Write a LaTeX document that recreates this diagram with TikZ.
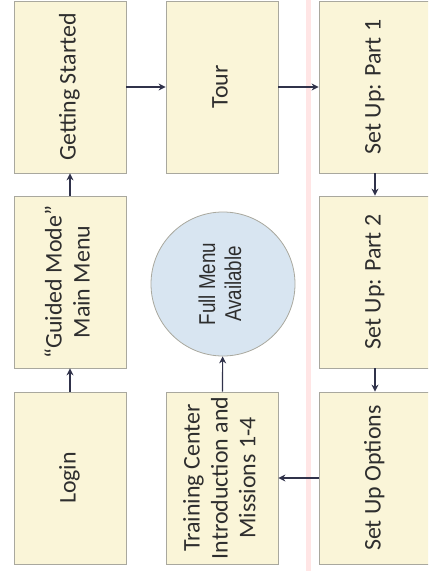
\documentclass[tikz,border=0pt]{standalone}
\usepackage{fontspec}
\usepackage{graphicx}
\usetikzlibrary{arrows.meta}
\newfontfamily\boxfont{Carlito}
\newfontfamily\hubfont[FakeStretch=0.82]{Liberation Sans}
\definecolor{cream}{HTML}{FAF5D8}
\definecolor{edgegray}{HTML}{A9A89E}
\definecolor{hubblue}{HTML}{D8E5F1}
\definecolor{arrowink}{HTML}{30324A}
\definecolor{inkgray}{HTML}{2E2E2E}
\newcommand{\vtext}[1]{\rotatebox{90}{\begin{tabular}{@{}c@{}}#1\end{tabular}}}
\begin{document}
\begin{tikzpicture}[x=1bp, y=-1bp,
    stage/.style={draw=edgegray, line width=0.8bp, fill=cream, inner sep=0pt,
        minimum width=112bp, minimum height=172bp, text=inkgray,
        font=\boxfont\fontsize{24}{28}\selectfont},
    hub/.style={circle, draw=edgegray, line width=0.8bp, fill=hubblue, inner sep=0pt,
        minimum size=144bp, text=inkgray, font=\hubfont\fontsize{23}{26}\selectfont},
    flow/.style={-{Stealth[length=7bp,width=7bp]}, draw=arrowink, line width=1.1bp}]
    \useasboundingbox (0,0) rectangle (428,571);
    \clip (0,0) rectangle (428,571);
    
    % Divider
    \draw[pink!40, line width=5bp] (308,0) -- (308,571);
    
    % Left column
    \node[stage] (start) at (70,87) {\vtext{Getting Started}};
    \node[stage] (guided) at (70,282) {\vtext{“Guided Mode”\\Main Menu}};
    \node[stage] (login) at (70,478) {\vtext{Login}};
    
    % Middle column
    \node[stage] (tour) at (222,87) {\vtext{Tour}};
    \node[hub] (full) at (223,284) {\vtext{Full Menu\\Available}};
    \node[stage] (train) at (222,478) {\vtext{Training Center\\Introduction and\\Missions 1-4}};
    
    % Right column
    \node[stage] (part1) at (375,87) {\vtext{Set Up: Part 1}};
    \node[stage] (part2) at (375,282) {\vtext{Set Up: Part 2}};
    \node[stage] (options) at (375,478) {\vtext{Set Up Options}};
    
    % Arrows
    \draw[flow] (login) -- (guided);
    \draw[flow] (guided) -- (start);
    \draw[flow] (start) -- (tour);
    \draw[flow] (tour) -- (part1);
    \draw[flow] (part1) -- (part2);
    \draw[flow] (part2) -- (options);
    \draw[flow] (options) -- (train);
    \draw[flow] (train) -- (full);
\end{tikzpicture}
\end{document}
